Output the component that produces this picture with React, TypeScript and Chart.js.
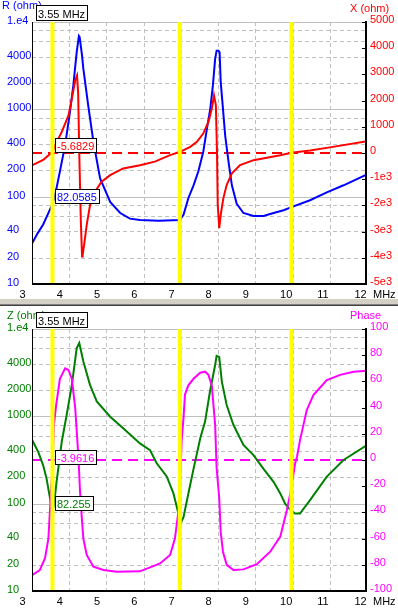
import React, { useEffect, useRef } from 'react';
import { Chart, registerables } from 'chart.js';
Chart.register(...registerables);

// ---------------- data ----------------
const freqMin = 3;
const freqMax = 12;
const freqTicks = [3, 4, 5, 6, 7, 8, 9, 10, 11, 12];
const freqUnit = 'MHz';
const markerFreqs = [3.55, 6.97, 9.97];
const markerFreq = 3.55;
const markerFreqLabel = '3.55 MHz';

const logTickVals = [10, 20, 40, 100, 200, 400, 1000, 2000, 4000, 10000];
const logTickLabels = ['10', '20', '40', '100', '200', '400', '1000', '2000', '4000', '1.e4'];
const logMajorGrid = [100, 1000, 10000];
const logMinorGrid = [20, 40, 60, 80, 200, 400, 600, 800, 2000, 4000, 6000, 8000];

const xTickVals = [5000, 4000, 3000, 2000, 1000, 0, -1000, -2000, -3000, -4000, -5000];
const xTickLabels = ['5000', '4000', '3000', '2000', '1000', '0', '-1e3', '-2e3', '-3e3', '-4e3', '-5e3'];
const phaseTickVals = [100, 80, 60, 40, 20, 0, -20, -40, -60, -80, -100];
const phaseTickLabels = ['100', '80', '60', '40', '20', '0', '-20', '-40', '-60', '-80', '-100'];

// R (ohm)
const rFreq = [3.0, 3.15, 3.3, 3.5, 3.55, 3.62, 3.75, 3.89, 4.02, 4.11, 4.2, 4.26, 4.28, 4.34, 4.38, 4.51, 4.65, 4.83, 5.1, 5.37, 5.63, 5.9, 6.4, 6.97, 7.07, 7.2, 7.34, 7.47, 7.6, 7.7, 7.79, 7.86, 7.92, 7.96, 8.01, 8.04, 8.07, 8.13, 8.19, 8.28, 8.37, 8.5, 8.68, 8.95, 9.22, 9.49, 9.76, 9.97, 10.47, 10.92, 11.37, 12.0];
const rVals = [29, 38, 48, 74, 82.06, 104, 195, 390, 935, 1880, 4500, 6900, 6700, 4300, 2900, 1110, 425, 162, 87, 65, 56, 54, 53, 54, 62, 96, 135, 195, 325, 600, 1020, 1880, 3780, 4700, 4700, 4500, 2050, 1020, 500, 250, 135, 83, 65, 60, 60, 65, 70, 76, 91, 112, 135, 180];

// X (ohm)
const xFreq = [3.0, 3.3, 3.5, 3.55, 3.62, 3.8, 3.98, 4.07, 4.16, 4.21, 4.24, 4.27, 4.31, 4.345, 4.36, 4.4, 4.47, 4.56, 4.69, 4.87, 5.1, 5.45, 5.9, 6.3, 6.71, 6.98, 7.25, 7.43, 7.6, 7.74, 7.83, 7.89, 7.94, 7.97, 7.99, 8.03, 8.07, 8.14, 8.23, 8.37, 8.59, 8.95, 9.31, 9.67, 9.97, 10.47, 11.0, 12.0];
const xVals = [-470, -264, -18, -5.68, 300, 806, 1437, 2072, 2768, 2960, 2300, 0, -2500, -3950, -3900, -3505, -2745, -1984, -1475, -1095, -844, -590, -464, -330, -83, 45, 236, 426, 742, 1187, 1692, 2198, 1818, 46, -1984, -2870, -2365, -1730, -1224, -779, -464, -274, -182, -83, 10, 95, 215, 450];

// Z (ohm)
const zFreq = [3.0, 3.17, 3.3, 3.39, 3.47, 3.55, 3.59, 3.66, 3.8, 3.93, 4.07, 4.2, 4.27, 4.38, 4.56, 4.74, 5.1, 5.45, 5.9, 6.17, 6.35, 6.62, 6.8, 6.93, 6.97, 7.07, 7.2, 7.34, 7.52, 7.65, 7.78, 7.92, 7.96, 8.03, 8.1, 8.23, 8.41, 8.68, 8.95, 9.22, 9.49, 9.67, 9.8, 9.94, 10.07, 10.2, 10.47, 10.92, 11.37, 12.0];
const zVals = [540, 390, 275, 195, 125, 82.3, 96, 178, 515, 1030, 2280, 6000, 6900, 4240, 2280, 1480, 990, 730, 490, 410, 290, 205, 131, 78, 57, 70, 130, 250, 560, 870, 1910, 3870, 4930, 4800, 2500, 1350, 800, 470, 360, 250, 178, 131, 100, 85, 77, 77, 110, 204, 316, 470];

// Phase (deg)
const phFreq = [3.0, 3.21, 3.35, 3.44, 3.5, 3.55, 3.59, 3.65, 3.75, 3.89, 3.98, 4.07, 4.16, 4.25, 4.29, 4.34, 4.38, 4.47, 4.65, 4.92, 5.28, 5.9, 6.44, 6.71, 6.84, 6.93, 6.97, 7.02, 7.07, 7.11, 7.2, 7.34, 7.52, 7.65, 7.74, 7.83, 7.92, 7.96, 8.03, 8.07, 8.13, 8.23, 8.41, 8.68, 9.04, 9.4, 9.67, 9.85, 9.94, 10.07, 10.12, 10.2, 10.38, 10.56, 10.92, 11.28, 11.64, 12.0];
const phVals = [-88, -84, -75, -60, -30, -3.96, 27, 42, 62, 70, 68.7, 62, 40, 1, -24, -45, -60, -72.5, -81.5, -84, -85.3, -85, -79, -72.5, -60, -40, -25, 15, 32, 50, 57, 62, 66.6, 67.4, 65, 57, 27, -6, -29, -55, -70, -80, -84, -83.5, -79.5, -70, -58.5, -38, -25.5, -2.5, 2.5, 15, 38, 49.6, 61, 65, 67.4, 68.2];

const rMarkerVal = 82.0585;
const xMarkerVal = -5.6829;
const zMarkerVal = 82.255;
const phMarkerVal = -3.9616;

// ---------------- styling ----------------
const GRID = '#c0c0c0';
const BLUE = '#0000ff';
const RED = '#ff0000';
const GREEN = '#008000';
const MAGENTA = '#ff00ff';
const YELLOW = '#ffff00';

type PanelCfg = {
  top: number;
  height: number;
  padTop: number;
  xAxisH: number;
  leftTitle: string;
  rightTitle: string;
  leftColor: string;
  rightColor: string;
  leftFreq: number[];
  leftVals: number[];
  rightFreq: number[];
  rightVals: number[];
  rightMin: number;
  rightMax: number;
  rightTickVals: number[];
  rightTickLabels: string[];
  leftMarker: number;
  rightMarker: number;
  leftTitleX: number;
  leftTitleBase: number;
  rightTitleBase: number;
};

function pickFont() {
  const c = document.createElement('canvas').getContext('2d')!;
  const s = 'MHz 4000 (ohm) Phase';
  c.font = '20px monospace';
  const a = c.measureText(s).width;
  c.font = '20px "Liberation Sans Narrow", monospace';
  const b = c.measureText(s).width;
  if (Math.abs(a - b) > 0.5) {
    return { family: '"Liberation Sans Narrow", "Liberation Sans", sans-serif', size: 12.5 };
  }
  return { family: '"Liberation Sans", Arial, sans-serif', size: 11 };
}

function Panel({ cfg }: { cfg: PanelCfg }) {
  const ref = useRef<HTMLCanvasElement>(null);
  useEffect(() => {
    const canvas = ref.current!;
    const f = pickFont();
    const fontStr = `${f.size}px ${f.family}`;

    const drawBox = (ctx: CanvasRenderingContext2D, text: string, left: number, bottom: number, color: string, h: number) => {
      ctx.font = fontStr;
      const w = Math.round(ctx.measureText(text).width + 4);
      const l = Math.round(left);
      const t = Math.round(bottom - h);
      ctx.fillStyle = '#ffffff';
      ctx.fillRect(l, t, w, h);
      ctx.strokeStyle = '#000000';
      ctx.lineWidth = 1;
      ctx.setLineDash([]);
      ctx.strokeRect(l + 0.5, t + 0.5, w, h);
      ctx.fillStyle = color;
      ctx.textAlign = 'left';
      ctx.textBaseline = 'alphabetic';
      ctx.fillText(text, l + 2, t + h - 2);
    };

    const deco = {
      id: 'deco',
      beforeDatasetsDraw(chart: any) {
        const { ctx, chartArea: a, scales } = chart;
        const xs = scales.x, yl = scales.yL, yr = scales.yR;
        ctx.save();
        ctx.lineWidth = 1;
        ctx.strokeStyle = GRID;
        ctx.setLineDash([4, 3]);
        for (const fq of freqTicks) {
          if (fq <= freqMin || fq >= freqMax) continue;
          const px = Math.round(xs.getPixelForValue(fq)) + 0.5;
          ctx.beginPath(); ctx.moveTo(px, a.top); ctx.lineTo(px, a.bottom); ctx.stroke();
        }
        for (const v of logMinorGrid) {
          const py = Math.round(yl.getPixelForValue(v)) + 0.5;
          ctx.beginPath(); ctx.moveTo(a.left, py); ctx.lineTo(a.right, py); ctx.stroke();
        }
        ctx.setLineDash([]);
        for (const v of logMajorGrid) {
          const py = Math.round(yl.getPixelForValue(v)) + 0.5;
          ctx.beginPath(); ctx.moveTo(a.left, py); ctx.lineTo(a.right, py); ctx.stroke();
        }
        // reference zero line of right axis
        ctx.strokeStyle = cfg.rightColor;
        ctx.lineWidth = 2;
        ctx.setLineDash([10, 6]);
        const zy = Math.round(yr.getPixelForValue(0));
        ctx.beginPath(); ctx.moveTo(a.left, zy); ctx.lineTo(a.right, zy); ctx.stroke();
        ctx.restore();
      },
      afterDatasetsDraw(chart: any) {
        const { ctx, chartArea: a, scales } = chart;
        const xs = scales.x, yl = scales.yL, yr = scales.yR;
        ctx.save();
        // marker lines
        ctx.strokeStyle = YELLOW;
        ctx.lineWidth = 4;
        for (const mf of markerFreqs) {
          const px = xs.getPixelForValue(mf);
          ctx.beginPath(); ctx.moveTo(px, a.top); ctx.lineTo(px, a.bottom); ctx.stroke();
        }
        // axis lines
        ctx.strokeStyle = '#000000';
        ctx.lineWidth = 1;
        ctx.beginPath(); ctx.moveTo(Math.round(a.left) + 0.5, a.top); ctx.lineTo(Math.round(a.left) + 0.5, a.bottom); ctx.stroke();
        ctx.lineWidth = 2;
        ctx.beginPath(); ctx.moveTo(a.left, Math.round(a.bottom)); ctx.lineTo(a.right, Math.round(a.bottom)); ctx.stroke();
        ctx.beginPath(); ctx.moveTo(Math.round(a.right) - 1, a.top - 1); ctx.lineTo(Math.round(a.right) - 1, a.bottom + 1); ctx.stroke();
        // right axis tick marks
        ctx.lineWidth = 1;
        for (const v of cfg.rightTickVals) {
          const py = Math.round(yr.getPixelForValue(v)) + 0.5;
          ctx.beginPath(); ctx.moveTo(a.right - 5, py); ctx.lineTo(a.right, py); ctx.stroke();
        }
        // x tick labels
        ctx.font = fontStr;
        ctx.fillStyle = '#000000';
        ctx.textAlign = 'left';
        ctx.textBaseline = 'alphabetic';
        for (const fq of freqTicks) {
          const px = xs.getPixelForValue(fq);
          ctx.fillText(String(fq), px - 12.5, a.bottom + 14);
        }
        ctx.fillText(freqUnit, a.right + 6, a.bottom + 14);
        // axis titles
        ctx.fillStyle = cfg.leftColor;
        ctx.fillText(cfg.leftTitle, cfg.leftTitleX, cfg.leftTitleBase);
        ctx.fillStyle = cfg.rightColor;
        ctx.fillText(cfg.rightTitle, a.right - 17, cfg.rightTitleBase);
        // marker frequency box
        drawBox(ctx, markerFreqLabel, a.left + 4, a.top - 2, '#000000', 15);
        // marker value boxes
        const mx = xs.getPixelForValue(markerFreq);
        drawBox(ctx, String(cfg.rightMarker), mx + 3, yr.getPixelForValue(cfg.rightMarker) - 1.5, cfg.rightColor, 14);
        drawBox(ctx, String(cfg.leftMarker), mx + 3, yl.getPixelForValue(cfg.leftMarker) - 1.5, cfg.leftColor, 14);
        ctx.restore();
      },
    };

    const chart = new Chart(canvas, {
      type: 'line',
      data: {
        datasets: [
          {
            data: cfg.rightFreq.map((fq, i) => ({ x: fq, y: cfg.rightVals[i] })),
            yAxisID: 'yR',
            borderColor: cfg.rightColor,
            borderWidth: 2,
            pointRadius: 0,
            tension: 0,
            fill: false,
          },
          {
            data: cfg.leftFreq.map((fq, i) => ({ x: fq, y: cfg.leftVals[i] })),
            yAxisID: 'yL',
            borderColor: cfg.leftColor,
            borderWidth: 2,
            pointRadius: 0,
            tension: 0,
            fill: false,
          },
        ],
      },
      options: {
        animation: false,
        responsive: false,
        maintainAspectRatio: false,
        events: [],
        layout: { padding: { left: 7, right: 0, top: cfg.padTop, bottom: 0 } },
        plugins: { legend: { display: false }, tooltip: { enabled: false } },
        scales: {
          x: {
            type: 'linear',
            min: freqMin,
            max: freqMax,
            ticks: { display: false },
            grid: { display: false, drawTicks: false },
            border: { display: false },
            afterFit: (s: any) => { s.height = cfg.xAxisH; },
          },
          yL: {
            type: 'logarithmic',
            position: 'left',
            min: 10,
            max: 10000,
            grid: { display: false, drawTicks: false },
            border: { display: false },
            afterBuildTicks: (s: any) => { s.ticks = logTickVals.map((v) => ({ value: v })); },
            ticks: {
              color: cfg.leftColor,
              font: { family: f.family, size: f.size },
              crossAlign: 'far',
              padding: 0,
              autoSkip: false,
              labelOffset: -1,
              callback: (v: any) => {
                const i = logTickVals.indexOf(Number(v));
                return i >= 0 ? logTickLabels[i] : '';
              },
            },
            afterFit: (s: any) => { s.width = 25; },
          },
          yR: {
            type: 'linear',
            position: 'right',
            min: cfg.rightMin,
            max: cfg.rightMax,
            grid: { display: false, drawTicks: false },
            border: { display: false },
            afterBuildTicks: (s: any) => { s.ticks = cfg.rightTickVals.map((v) => ({ value: v })); },
            ticks: {
              color: cfg.rightColor,
              font: { family: f.family, size: f.size },
              padding: 3,
              autoSkip: false,
              labelOffset: -2,
              callback: (v: any) => {
                const i = cfg.rightTickVals.indexOf(Number(v));
                return i >= 0 ? cfg.rightTickLabels[i] : '';
              },
            },
            afterFit: (s: any) => { s.width = 31; },
          },
        },
      } as any,
      plugins: [deco as any],
    });
    return () => chart.destroy();
  }, []);
  return (
    <canvas
      ref={ref}
      width={398}
      height={cfg.height}
      style={{ position: 'absolute', left: 0, top: cfg.top, width: 398, height: cfg.height }}
    />
  );
}

const topCfg: PanelCfg = {
  top: 0,
  height: 299,
  padTop: 22,
  xAxisH: 15,
  leftTitle: 'R (ohm)',
  rightTitle: 'X (ohm)',
  leftColor: BLUE,
  rightColor: RED,
  leftFreq: rFreq,
  leftVals: rVals,
  rightFreq: xFreq,
  rightVals: xVals,
  rightMin: -5000,
  rightMax: 5000,
  rightTickVals: xTickVals,
  rightTickLabels: xTickLabels,
  leftMarker: rMarkerVal,
  rightMarker: xMarkerVal,
  leftTitleX: 2,
  leftTitleBase: 8.5,
  rightTitleBase: 11.5,
};

const bottomCfg: PanelCfg = {
  top: 306,
  height: 303,
  padTop: 23,
  xAxisH: 18,
  leftTitle: 'Z (ohm)',
  rightTitle: 'Phase',
  leftColor: GREEN,
  rightColor: MAGENTA,
  leftFreq: zFreq,
  leftVals: zVals,
  rightFreq: phFreq,
  rightVals: phVals,
  rightMin: -100,
  rightMax: 100,
  rightTickVals: phaseTickVals,
  rightTickLabels: phaseTickLabels,
  leftMarker: zMarkerVal,
  rightMarker: phMarkerVal,
  leftTitleX: 7,
  leftTitleBase: 13,
  rightTitleBase: 13,
};

export default function App() {
  return (
    <div
      style={{
        position: 'fixed',
        left: 0,
        top: 0,
        width: 398,
        height: 609,
        background: '#ffffff',
        overflow: 'hidden',
      }}
    >
      <Panel cfg={topCfg} />
      <div style={{ position: 'absolute', left: 0, top: 299, width: 398, height: 5, background: '#d4d0c8' }} />
      <div style={{ position: 'absolute', left: 0, top: 304, width: 398, height: 1, background: '#808080' }} />
      <div style={{ position: 'absolute', left: 0, top: 305, width: 398, height: 1, background: '#404040' }} />
      <Panel cfg={bottomCfg} />
    </div>
  );
}
